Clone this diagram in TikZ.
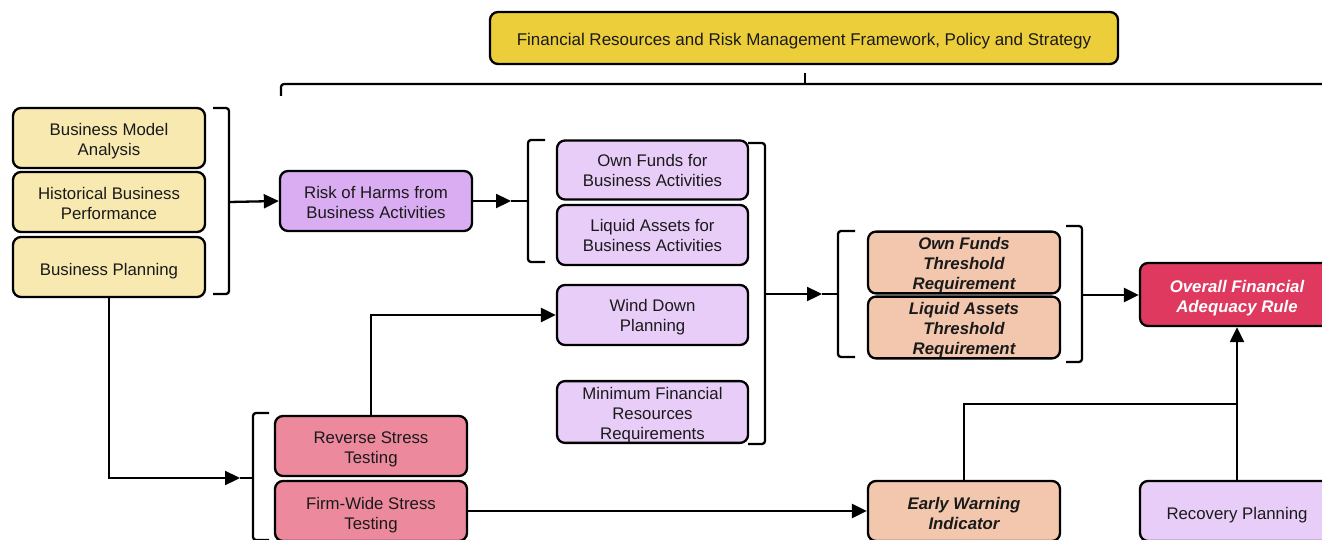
\documentclass[tikz,border=0pt]{standalone}
\usepackage{fontspec}
\setmainfont{Liberation Sans}
\usetikzlibrary{arrows.meta}
\definecolor{cgold}{HTML}{ECCE3B}
\definecolor{cyel}{HTML}{F7E9B0}
\definecolor{cpurp}{HTML}{DAADF3}
\definecolor{clpurp}{HTML}{E8CDF8}
\definecolor{cpeach}{HTML}{F2C7AE}
\definecolor{cpink}{HTML}{EC899D}
\definecolor{ccrim}{HTML}{E0395F}
\definecolor{ctext}{HTML}{1A1A1A}
\newcommand\dn[1]{\rule{0pt}{\dimexpr12.3pt+#1pt*2\relax}}
\tikzset{
  box/.style={draw=black, line width=2.3pt, rounded corners=8pt, align=center,
    text=ctext, font=\fontsize{16.8}{20}\selectfont, inner sep=0pt},
  wh/.style n args={2}{minimum width=#1pt, minimum height=#2pt},
  emph/.style={font=\fontsize{16.8}{20}\selectfont\bfseries\itshape},
  conn/.style={line width=2.3pt, draw=black},
  arr/.style={conn, -{Triangle[length=15pt,width=14pt]}},
  brk/.style={conn, rounded corners=3pt},
}
\begin{document}
\begin{tikzpicture}[x=1pt,y=-1pt]
\useasboundingbox (0,0) rectangle (1322,540);
\clip (0,0) rectangle (1322,540);
% nodes
\node[box, fill=cgold, wh={628}{52}, font=\fontsize{17}{20}\selectfont] (top) at (804,38) {\dn{3}Financial Resources and Risk Management Framework, Policy and Strategy};
\node[box, fill=cyel, wh={192}{60}] (bma) at (109,138) {\dn{3}Business Model\\Analysis};
\node[box, fill=cyel, wh={192}{60}] (hbp) at (109,202) {\dn{1}Historical Business\\Performance};
\node[box, fill=cyel, wh={192}{60}] (bp) at (109,267) {\dn{4}Business Planning};
\node[box, fill=cpurp, wh={192}{60}] (risk) at (376,201) {\dn{1}Risk of Harms from\\Business Activities};
\node[box, fill=clpurp, wh={191}{59}] (ofb) at (652.5,170) {Own Funds for\\Business Activities};
\node[box, fill=clpurp, wh={191}{60}] (lab) at (652.5,235) {Liquid Assets for\\Business Activities};
\node[box, fill=clpurp, wh={191}{60}] (wdp) at (652.5,315) {\dn{2}Wind Down\\Planning};
\node[box, fill=clpurp, wh={191}{60}] (mfr) at (652.5,412) {\dn{3}Minimum Financial\\Resources\\Requirements};
\node[box, fill=cpeach, wh={192}{61}, emph] (oft) at (964,262.5) {\dn{3}Own Funds\\Threshold\\Requirement};
\node[box, fill=cpeach, wh={192}{61}, emph] (lat) at (964,327.5) {\dn{3}Liquid Assets\\Threshold\\Requirement};
\node[box, fill=ccrim, wh={194}{63}, emph, text=white] (ofar) at (1237,294.5) {\dn{4}Overall Financial\\Adequacy Rule};
\node[box, fill=cpink, wh={192}{60}] (rst) at (371,446) {\dn{3}Reverse Stress\\Testing};
\node[box, fill=cpink, wh={192}{60}] (fwst) at (371,511) {\dn{4}Firm-Wide Stress\\Testing};
\node[box, fill=cpeach, wh={192}{60}, emph] (ewi) at (964,511) {\dn{2}Early Warning\\Indicator};
\node[box, fill=clpurp, wh={194}{60}] (rp) at (1237,511) {\dn{4}Recovery Planning};
% coordinates
\coordinate (b1) at (229,202);
\coordinate (b2t) at (511,201);
\coordinate (b2) at (528,201);
\coordinate (b3) at (765,294);
\coordinate (b4t) at (822,294);
\coordinate (b4) at (838,294);
\coordinate (b5) at (1082,295);
\coordinate (b6t) at (240,478);
\coordinate (b6) at (253,478);
\coordinate (tb) at (805,84);
\coordinate (tbt) at (805,73);
\coordinate (jn) at (1237,404);
% top brace
\draw[brk] (281,96) -- (281,84) -- (1340,84);
\draw[conn] (tb) -- (tbt);
% brackets
\draw[brk] (213,108) -- (229,108) -- (229,294) -- (213,294);
\draw[brk] (545,140) -- (528,140) -- (528,262) -- (545,262);
\draw[brk] (748,143) -- (765,143) -- (765,444) -- (748,444);
\draw[brk] (855,231) -- (838,231) -- (838,357) -- (855,357);
\draw[brk] (1066,226) -- (1082,226) -- (1082,362) -- (1066,362);
\draw[brk] (269,413) -- (253,413) -- (253,540) -- (269,540);
% connectors
\draw[arr] (b1) -- (risk.west);
\draw[arr] (risk.east) -- (b2t);
\draw[conn] (b2t) -- (b2);
\draw[arr] (b3) -- (b4t);
\draw[conn] (b4t) -- (b4);
\draw[arr] (b5) -- (ofar.west |- b5);
\draw[arr] (bp.south) |- (b6t);
\draw[conn] (b6t) -- (b6);
\draw[arr] (rst.north) |- (wdp.west);
\draw[arr] (fwst.east) -- (ewi.west);
\draw[conn] (ewi.north) |- (jn);
\draw[arr] (rp.north) -- (ofar.south);
\end{tikzpicture}
\end{document}
